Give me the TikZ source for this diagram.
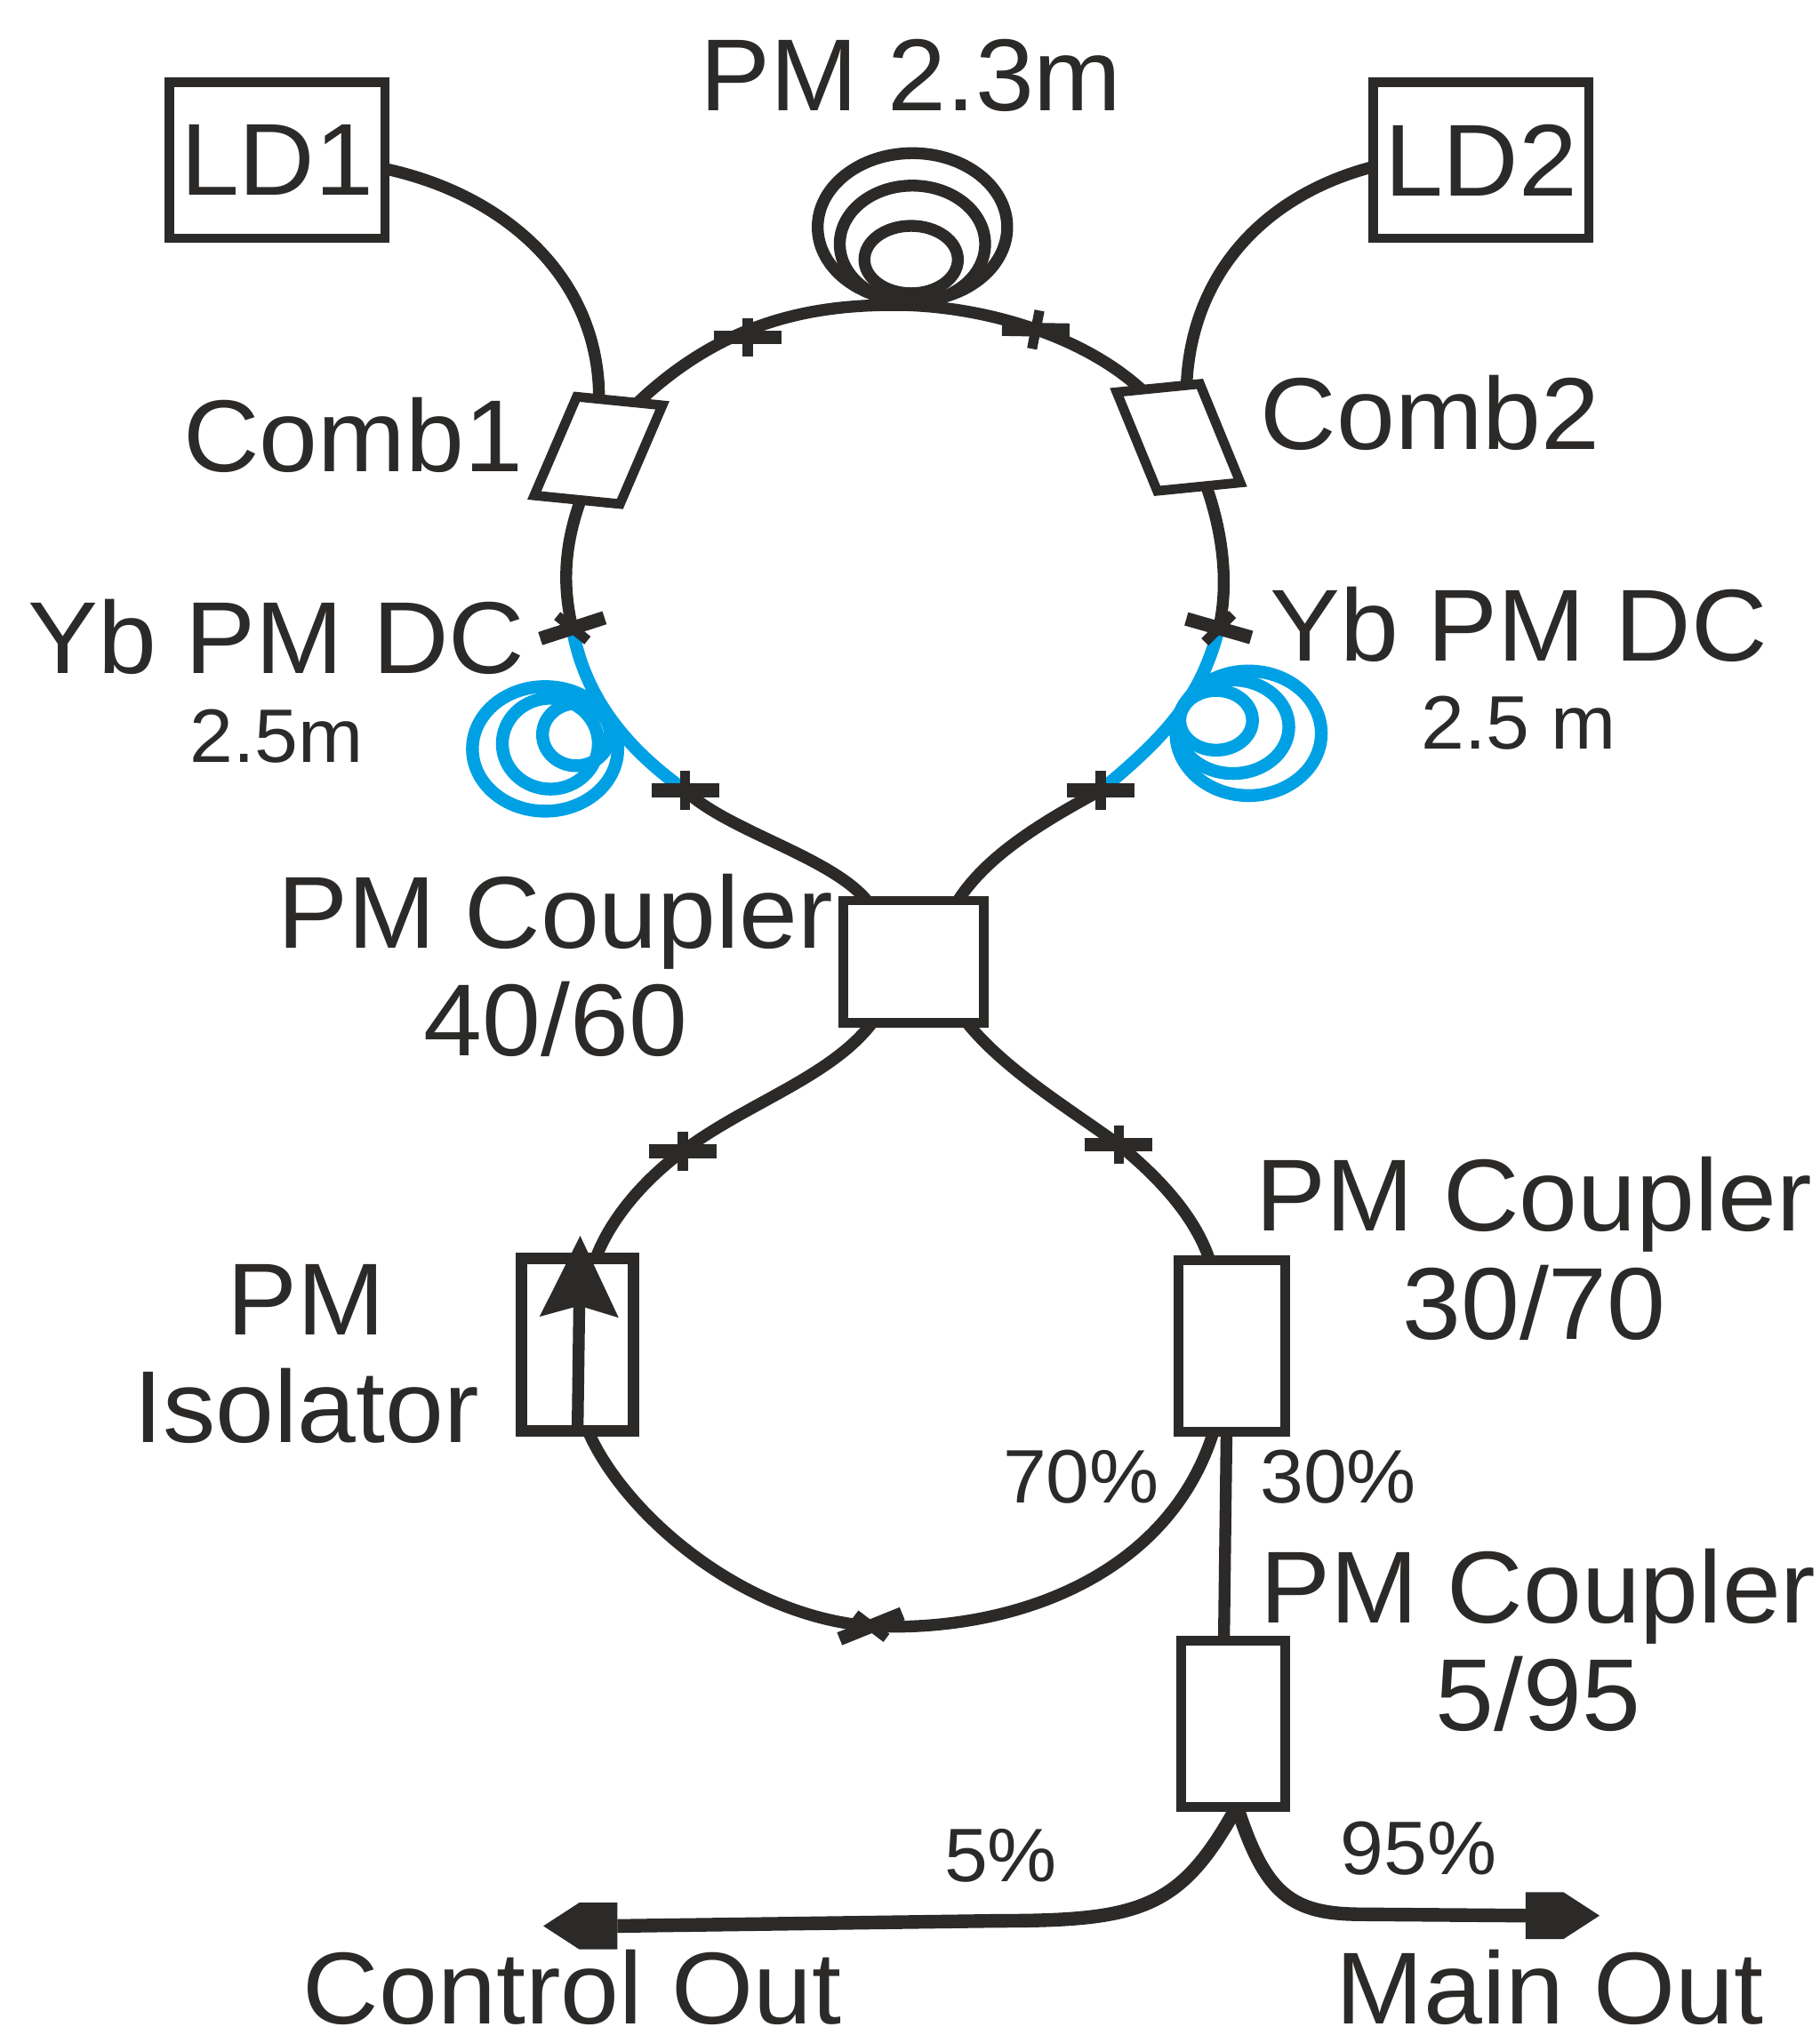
\documentclass[tikz,border=0pt]{standalone}
\usepackage{fontspec}
\setmainfont[FakeStretch=1.03]{Liberation Sans}
\usetikzlibrary{positioning,arrows.meta,calc,shapes.symbols}
\definecolor{cInk}{HTML}{2B2A29}
\definecolor{cYb}{HTML}{00A1E4}
\tikzset{
  box/.style={draw=cInk, fill=white, line width=2.1pt, inner sep=0pt, outer sep=0pt},
  lbl/.style={font=\fontsize{22.4}{23.6}\selectfont, text=cInk, inner sep=0pt, align=center},
  lbls/.style={font=\fontsize{16.6}{18}\selectfont, text=cInk, inner sep=0pt, align=center},
  fiber/.style={draw=cInk, line width=2.6pt},
  fiberb/.style={draw=cInk, line width=3pt},
  yb/.style={draw=cYb, line width=2.8pt},
  splmain/.style={draw=cInk, line width=3pt},
  splsec/.style={draw=cInk, line width=2.2pt},
  outhead/.style={signal, fill=cInk, inner sep=0pt, outer sep=0pt, signal pointer angle=66,
                  minimum width=5.7mm, minimum height=3.6mm},
}
\newcommand{\splice}[3]{%
  \draw[splmain] ([shift={(#2:26)}]#1) -- ([shift={(#2+180:26)}]#1);
  \draw[splsec] ([shift={(#3:15)}]#1) -- ([shift={(#3+180:15)}]#1);
}

\begin{document}
\begin{tikzpicture}[x=0.01cm, y=-0.01cm]
  \useasboundingbox (0,0) rectangle (1402,1568);
  % boxes
  \node[box, minimum width=16.6mm, minimum height=12mm] (ld1) at (213.5,123.5) {\fontsize{22.4}{24}\selectfont\color{cInk}LD1};
  \node[box, minimum width=16.6mm, minimum height=12mm] (ld2) at (1141,123.5) {\fontsize{22.4}{24}\selectfont\color{cInk}LD2};
  \node[box, minimum width=6.6mm, minimum height=7.6mm, cm={1,-0.1,0.43,1,(0,0)}] (comb1) at (461,347) {};
  \node[box, minimum width=6.4mm, minimum height=7.6mm, cm={1,0.1,-0.41,1,(0,0)}] (comb2) at (908,337) {};
  \node[box, minimum width=10.8mm, minimum height=9.4mm] (cpl) at (704,741) {};
  \node[box, minimum width=8.6mm, minimum height=13.3mm, line width=2.6pt] (iso) at (445,1036) {};
  \node[box, minimum width=8.2mm, minimum height=13.2mm] (cthree) at (949,1037) {};
  \node[box, minimum width=8.0mm, minimum height=12.8mm] (cfive) at (950,1328) {};

  % labels
  \node[lbl] (ttop) at (702,58) {PM 2.3m};
  \node[lbl] (tcomb1) at (272,335) {Comb1};
  \node[lbl] (tcomb2) at (1102,318) {Comb2};
  \node[lbl] (tybl) at (213,491) {Yb PM DC};
  \node[lbls, below=2.5mm of tybl] (tlenl) {2.5m};
  \node[lbl] (tybr) at (1170,481) {Yb PM DC};
  \node[lbls, below=2.5mm of tybr] (tlenr) {2.5 m};
  \node[lbl] (tcpl) at (428,744) {PM Coupler\\40/60};
  \node[lbl] (tthree) at (1182,962) {PM Coupler\\30/70};
  \node[lbl] (tfive) at (1185,1264) {PM Coupler\\5/95};
  \node[lbl] (tiso) at (236,1043) {PM\\Isolator};
  \node[lbls] (tsev) at (833,1138) {70\%};
  \node[lbls] (tthr) at (1031,1138) {30\%};
  \node[lbls] (tfv) at (771,1430) {5\%};
  \node[lbls] (tnf) at (1093,1424) {95\%};
  \node[lbl] (tctl) at (441,1531) {Control Out};
  \node[lbl] (tmain) at (1194,1531) {Main Out};

  % splice points and fibre ends
  \coordinate (spa) at (576,260);
  \coordinate (spb) at (798,254);
  \coordinate (spc) at (441,484);
  \coordinate (spd) at (939,484);
  \coordinate (spe) at (528,609);
  \coordinate (spf) at (848,609);
  \coordinate (spg) at (526,887);
  \coordinate (sph) at (862,882);
  \coordinate (spi) at (671,1253);
  \coordinate (peak) at (690,235);
  \coordinate (isotip) at (447,952);
  \coordinate (coila) at ($(comb1.north west)!.26!(comb1.north east)$);
  \coordinate (coilb) at ($(comb1.north west)!.71!(comb1.north east)$);
  \coordinate (coilc) at ($(comb1.south west)!.54!(comb1.south east)$);
  \coordinate (coild) at ($(comb2.north west)!.84!(comb2.north east)$);
  \coordinate (coile) at ($(comb2.north west)!.3!(comb2.north east)$);
  \coordinate (coilf) at ($(comb2.south west)!.59!(comb2.south east)$);

  % pump and ring fibres
  \draw[fiber] ([yshift=-.65mm]ld1.east) .. controls (390,150) and (462,215) .. (coila);
  \draw[fiber] ([yshift=-.5mm]ld2.west) .. controls (975,150) and (918,210) .. (coild);
  \draw[fiber] (coilb) .. controls (560,245) and (630,235) .. (peak)
     .. controls (750,235) and (830,255) .. (coile);
  \draw[fiber] (coilc) .. controls (435,420) and (433,450) .. (spc);
  \draw[fiber] (coilf) .. controls (942,410) and (947,450) .. (spd);

  % gain fibre
  \draw[yb] (spc) .. controls (450,535) and (480,575) .. (spe);
  \draw[yb] (spd) .. controls (925,540) and (895,570) .. (spf);
  \draw[yb] (420,577) ellipse (56 and 48);
  \draw[yb] (424,573) ellipse (37 and 35);
  \draw[yb] (444,566) ellipse (26 and 24);
  \draw[yb] (962,565) ellipse (56 and 48);
  \draw[yb] (950,560) ellipse (43 and 36);
  \draw[yb] (937,555) ellipse (28 and 23);

  % PM coil
  \draw[fiber] (703,175) ellipse (73 and 57);
  \draw[fiber] (703,188) ellipse (56 and 45);
  \draw[fiber] (702,200) ellipse (36 and 26);

  % figure of eight
  \draw[fiber] (spe) .. controls (560,640) and (640,660) .. ([xshift=-3.6mm]cpl.north);
  \draw[fiber] (spf) .. controls (800,635) and (760,660) .. ([xshift=3.4mm]cpl.north);
  \draw[fiber] ([xshift=-3.2mm]cpl.south) .. controls (640,830) and (575,850) .. (spg);
  \draw[fiber] ([xshift=4.1mm]cpl.south) .. controls (775,825) and (825,855) .. (sph);
  \draw[fiber] (spg) .. controls (495,910) and (470,940) .. ([xshift=1.4mm]iso.north);
  \draw[fiber] (sph) .. controls (890,905) and (920,935) .. ([xshift=-1.7mm]cthree.north);
  \draw[fiber] ([xshift=.8mm]iso.south) .. controls (480,1165) and (570,1245) .. (spi);
  \draw[fiber] (spi) .. controls (780,1258) and (900,1215) .. ([xshift=-1.4mm]cthree.south);
  \draw[fiber, -{Stealth[length=6.2mm, width=5.9mm, inset=.8mm]}] (iso.south) -- (isotip);
  \draw[fiber] ([xshift=-.4mm]cthree.south) -- ([xshift=-.7mm]cfive.north);

  % outputs
  \node[outhead, signal to=west] (hctl) at (461,1484) {};
  \node[outhead, signal to=east] (hmain) at (1190,1476) {};
  \draw[fiberb] ([xshift=.3mm]cfive.south) .. controls (910,1470) and (880,1480) .. (770,1480)
     -- (hctl.east);
  \draw[fiberb] ([xshift=.3mm]cfive.south) .. controls (975,1460) and (995,1475) .. (1050,1475)
     -- (hmain.west);

  % splices
  \splice{spa}{0}{90}
  \splice{spb}{1}{101}
  \splice{spc}{-18}{39}
  \splice{spd}{16}{135}
  \splice{spe}{0}{90}
  \splice{spf}{0}{90}
  \splice{spg}{0}{90}
  \splice{sph}{0}{90}
  \splice{spi}{-22}{37}
\end{tikzpicture}
\end{document}
